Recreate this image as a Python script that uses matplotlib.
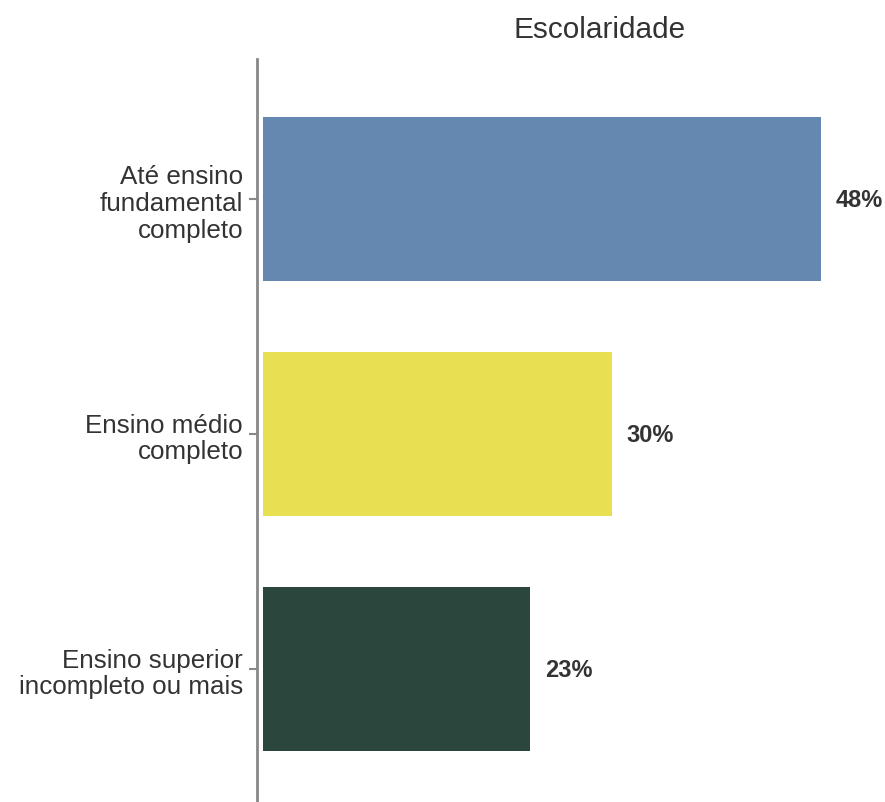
import matplotlib
matplotlib.use("Agg")
import matplotlib.pyplot as plt

plt.rcParams['font.family'] = ['Liberation Sans', 'DejaVu Sans']

categories = ["Até ensino\nfundamental\ncompleto", "Ensino médio\ncompleto", "Ensino superior\nincompleto ou mais"]
values = [48, 30, 23]
labels = ["48%", "30%", "23%"]
colors = ["#6488B0", "#E8DF52", "#2B473D"]

W, H = 885, 803
fig = plt.figure(figsize=(W/100, H/100), dpi=100)
ax = fig.add_axes([257/W, 0, (885-257)/W, (803-60)/H])

pos = list(range(len(categories)))
ax.barh(pos, values, height=0.70, color=colors, left=0)
ax.set_ylim(2.566, -0.596)
ax.set_xlim(-0.52, (885-263)/11.625)

for p, v, l in zip(pos, values, labels):
    ax.text(v + 1.3, p, l, va="center", ha="left", fontsize=17, fontweight="bold", color="#333333")

ax.set_yticks(pos)
ax.set_yticklabels(categories, fontsize=18.7, color="#333333", linespacing=1.15)
ax.tick_params(axis="y", length=6, width=1.5, color="#888888", pad=4)
ax.set_xticks([])
for s in ["top", "right", "bottom"]:
    ax.spines[s].set_visible(False)
ax.spines["left"].set_color("#888888")
ax.spines["left"].set_linewidth(2)

fig.text(600/W, 1 - 30/H, "Escolaridade", ha="center", va="center", fontsize=21.4, color="#333333")

fig.savefig("out.png", dpi=100)
